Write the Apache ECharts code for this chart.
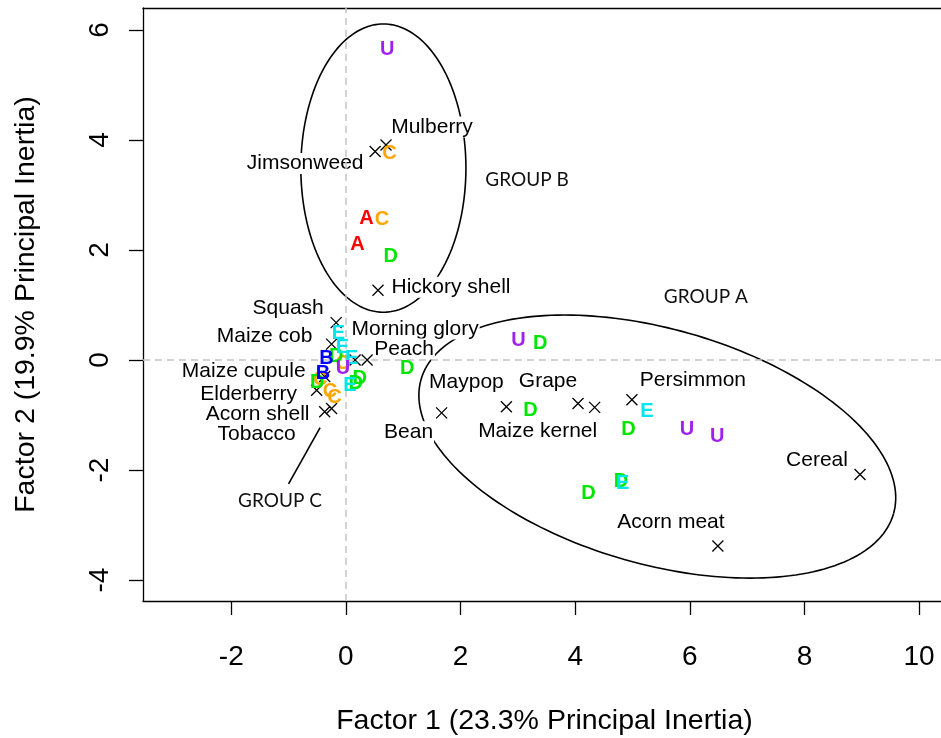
<!DOCTYPE html>
<html>
<head>
<meta charset="utf-8">
<script src="https://cdn.jsdelivr.net/npm/echarts@6/dist/echarts.min.js"></script>
<style>
  html, body { margin: 0; padding: 0; background: #fff; }
  #chart { width: 941px; height: 738px; }
</style>
</head>
<body>
<div id="chart"></div>
<script>
// Food types (column points) on the first two correspondence-analysis factors
const foodNames = ['Mulberry', 'Jimsonweed', 'Hickory shell', 'Squash', 'Maize cob',
  'Morning glory', 'Peach', 'Maize cupule', 'Elderberry', 'Acorn shell', 'Tobacco',
  'Bean', 'Maypop', 'Grape', 'Maize kernel', 'Persimmon', 'Cereal', 'Acorn meat'];
const foodX = [0.70, 0.51, 0.56, -0.17, -0.25, 0.16, 0.37, -0.37, -0.51, -0.25, -0.37,
  1.67, 2.80, 4.05, 4.34, 4.99, 8.97, 6.49];
const foodY = [3.91, 3.79, 1.27, 0.68, 0.29, 0.00, 0.00, -0.30, -0.55, -0.88, -0.94,
  -0.96, -0.85, -0.79, -0.86, -0.72, -2.08, -3.38];

// Context (row) points, grouped by their letter code
const pointsA = [[0.36, 2.58], [0.20, 2.10]];
const pointsB = [[-0.34, 0.03], [-0.40, -0.24]];
const pointsC = [[0.76, 3.75], [0.63, 2.56], [-0.05, -0.06], [-0.45, -0.35], [-0.28, -0.58], [-0.20, -0.68]];
const pointsD = [[0.78, 1.89], [3.39, 0.31], [1.07, -0.15], [3.22, -0.91], [4.93, -1.26], [4.23, -2.42],
  [4.80, -2.20], [-0.17, 0.06], [0.24, -0.33], [0.17, -0.42], [-0.50, -0.40]];
const pointsE = [[-0.13, 0.48], [-0.06, 0.22], [0.10, 0.02], [0.07, -0.47], [5.25, -0.94], [4.83, -2.25]];
const pointsU = [[0.72, 5.65], [3.01, 0.35], [5.95, -1.26], [6.48, -1.39], [-0.05, -0.15]];

// Axis ticks
const xTicks = [-2, 0, 2, 4, 6, 8, 10];
const yTicks = [-4, -2, 0, 2, 4, 6];

// Group outlines: centre and two conjugate semi-diameters (data units)
const groupEllipses = [
  { center: [0.654, 3.49], u: [1.44, 0], v: [0, 2.62] },
  { center: [5.433, -1.573], u: [4.122, -1.219], v: [-0.5605, -2.057] }
];
const groupNames = ['GROUP A', 'GROUP B', 'GROUP C'];
const groupNamePos = [[6.28, 1.15], [3.16, 3.27], [-1.15, -2.56]];
const groupCPointer = [[-1.0, -2.25], [-0.45, -1.23]];

// Pixel offsets of the food labels from their markers
const foodLabelOffset = [[46, -18], [-70, 12], [73, -3], [-48, -14], [-67, -8], [60, -31], [37, -11],
  [-81, -5], [-68, 4], [-74, 6], [-68, 22], [-33, 19], [-40, -25], [-30, -22], [-57, 24], [61, -19],
  [-43, -14], [-47, -24]];

const FONT = "'Liberation Sans', Arial, Helvetica, sans-serif";
const X_RANGE = { min: -3.54, max: 10.47 };

function letterSeries(letter, pts, color) {
  return {
    type: 'scatter',
    name: letter,
    z: 5,
    silent: true,
    symbol: 'circle',
    symbolSize: 1,
    itemStyle: { color: 'rgba(0,0,0,0)', opacity: 1 },
    label: {
      show: true, position: 'inside', formatter: letter, opacity: 1,
      color: color, fontWeight: 'bold', fontSize: 20, fontFamily: FONT
    },
    data: pts
  };
}

const chart = echarts.init(document.getElementById('chart'), null, { renderer: 'canvas' });

const option = {
  animation: false,
  backgroundColor: '#fff',
  grid: {
    left: 143, top: 8, width: 803, height: 593,
    outerBoundsMode: 'none',
    containLabel: false,
    show: false
  },
  xAxis: [
    {
      type: 'value', min: X_RANGE.min, max: X_RANGE.max, position: 'bottom',
      splitLine: { show: false },
      axisLine: { onZero: false, lineStyle: { color: '#000', width: 1.3 } },
      axisTick: { show: true, length: 14, customValues: xTicks, lineStyle: { color: '#000', width: 1.3 } },
      axisLabel: { customValues: xTicks, fontSize: 28, color: '#000', margin: 42, fontFamily: FONT },
      name: 'Factor 1 (23.3% Principal Inertia)',
      nameLocation: 'middle', nameGap: 106,
      nameTextStyle: { fontSize: 28.5, color: '#000', fontFamily: FONT }
    },
    {
      // top edge of the plot frame
      type: 'value', min: X_RANGE.min, max: X_RANGE.max, position: 'top',
      splitLine: { show: false },
      axisLine: { show: true, onZero: false, lineStyle: { color: '#000', width: 1.3 } },
      axisTick: { show: false },
      axisLabel: { show: false }
    }
  ],
  yAxis: {
    type: 'value', min: -4.38, max: 6.4,
    splitLine: { show: false },
    axisLine: { onZero: false, lineStyle: { color: '#000', width: 1.3 } },
    axisTick: { show: true, length: 14, customValues: yTicks, lineStyle: { color: '#000', width: 1.3 } },
    axisLabel: { customValues: yTicks, rotate: 90, fontSize: 28, color: '#000', margin: 29, fontFamily: FONT },
    name: 'Factor 2 (19.9% Principal Inertia)',
    nameLocation: 'middle', nameGap: 102,
    nameTextStyle: { fontSize: 28.5, color: '#000', fontFamily: FONT }
  },
  series: [
    {
      // group outlines plus the dashed zero reference lines
      type: 'custom',
      coordinateSystem: 'cartesian2d',
      z: 1,
      silent: true,
      data: groupEllipses.map(e => e.center),
      renderItem: function (params, api) {
        const e = groupEllipses[params.dataIndex];
        const pts = [];
        const n = 200;
        for (let i = 0; i <= n; i++) {
          const t = i / n * Math.PI * 2;
          const c = Math.cos(t), s = Math.sin(t);
          pts.push(api.coord([
            e.center[0] + e.u[0] * c + e.v[0] * s,
            e.center[1] + e.u[1] * c + e.v[1] * s
          ]));
        }
        return {
          type: 'polyline',
          shape: { points: pts },
          style: { stroke: '#000', lineWidth: 1.6, fill: null }
        };
      },
      markLine: {
        silent: true,
        symbol: 'none',
        label: { show: false },
        lineStyle: { color: '#c4c4c4', type: [7, 5], width: 1.5, opacity: 1 },
        data: [{ xAxis: 0 }, { yAxis: 0 }]
      }
    },
    {
      type: 'line',
      z: 1,
      silent: true,
      symbol: 'none',
      lineStyle: { color: '#000', width: 1.6 },
      data: groupCPointer
    },
    {
      type: 'scatter',
      z: 2,
      silent: true,
      symbolSize: 0,
      itemStyle: { opacity: 1 },
      label: {
        show: true, position: 'inside', formatter: '{b}', opacity: 1,
        color: '#111', fontSize: 19, fontFamily: "Lato, 'Open Sans', sans-serif"
      },
      data: groupNames.map((n, i) => ({ name: n, value: groupNamePos[i] }))
    },
    {
      type: 'scatter',
      z: 3,
      silent: true,
      symbol: 'path://M0,0L10,10M10,0L0,10',
      symbolSize: 11,
      itemStyle: { color: 'rgba(0,0,0,0)', borderColor: '#000', borderWidth: 1.3, opacity: 1 },
      label: {
        show: true, position: 'inside', formatter: '{b}', opacity: 1,
        color: '#000', fontSize: 21, fontFamily: FONT,
        backgroundColor: '#fff', padding: [0, 1]
      },
      data: foodNames.map((n, i) => ({
        name: n,
        value: [foodX[i], foodY[i]],
        label: { offset: foodLabelOffset[i] }
      }))
    },
    letterSeries('C', pointsC, '#ffa500'),
    letterSeries('D', pointsD, '#00e600'),
    letterSeries('E', pointsE, '#00e5ee'),
    letterSeries('U', pointsU, '#a020f0'),
    letterSeries('A', pointsA, '#ff0000'),
    letterSeries('B', pointsB, '#0000ff')
  ]
};

chart.setOption(option);
</script>
</body>
</html>
